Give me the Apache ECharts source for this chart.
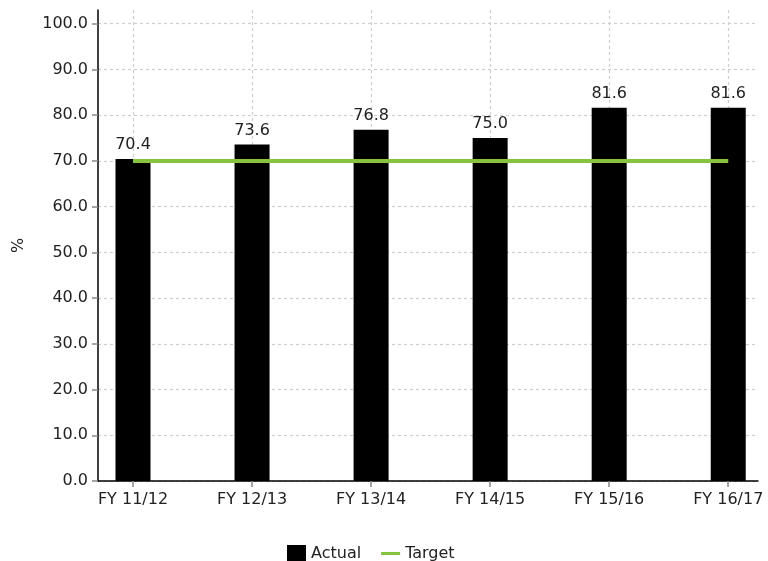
<!DOCTYPE html>
<html>
<head>
<meta charset="utf-8">
<script src="https://cdn.jsdelivr.net/npm/echarts@6/dist/echarts.min.js"></script>
<style>
  html, body { margin: 0; padding: 0; background: #fff; }
  #chart { width: 768px; height: 561px; }
</style>
</head>
<body>
<div id="chart"></div>
<script>
// chart data
const categories = ['FY 11/12', 'FY 12/13', 'FY 13/14', 'FY 14/15', 'FY 15/16', 'FY 16/17'];
const actual = [70.4, 73.6, 76.8, 75.0, 81.6, 81.6];
const target = [70, 70, 70, 70, 70, 70];
const yTicks = [0, 10, 20, 30, 40, 50, 60, 70, 80, 90, 100];
const xTicks = [0, 1, 2, 3, 4, 5];

const font = 'DejaVu Sans';
const textColor = '#222';
const green = '#86c440';
const gridLine = { show: true, lineStyle: { color: '#cfcfcf', type: [3, 3], width: 1.2 } };

const chart = echarts.init(document.getElementById('chart'));

chart.setOption({
    animation: false,
    backgroundColor: '#fff',
    textStyle: { fontFamily: font },
    grid: { left: 98, right: 10, top: 10, bottom: 80, containLabel: false },
    legend: {
        left: 282,
        top: 540,
        itemWidth: 19,
        itemHeight: 17,
        itemGap: 20,
        textStyle: { fontFamily: font, fontSize: 16, color: textColor },
        data: [
            { name: 'Actual', icon: 'rect' },
            // thin bar as the line marker
            { name: 'Target', icon: 'path://M0,0 H21 V3.4 H0 Z', itemStyle: { color: green } }
        ]
    },
    xAxis: {
        type: 'value',
        min: -0.294,
        max: 5.25,
        axisLine: { show: true, lineStyle: { color: '#000', width: 1.5 } },
        axisTick: { show: true, customValues: xTicks, length: 6, lineStyle: { color: '#888', width: 1.5 } },
        axisLabel: {
            customValues: xTicks,
            margin: 11,
            fontSize: 16,
            color: textColor,
            formatter: v => categories[Math.round(v)] || ''
        },
        splitLine: gridLine
    },
    yAxis: {
        type: 'value',
        min: 0,
        max: 103,
        name: '%',
        nameLocation: 'middle',
        nameGap: 71,
        nameTextStyle: { fontFamily: font, fontSize: 16, color: textColor },
        axisLine: { show: true, onZero: false, lineStyle: { color: '#000', width: 1.5 } },
        axisTick: { show: true, customValues: yTicks, length: 6, lineStyle: { color: '#888', width: 1.5 } },
        axisLabel: {
            customValues: yTicks,
            margin: 10,
            fontSize: 16,
            color: textColor,
            formatter: v => v.toFixed(1)
        },
        splitLine: gridLine
    },
    series: [
        {
            name: 'Actual',
            type: 'bar',
            barWidth: 35,
            itemStyle: { color: '#000' },
            label: {
                show: true,
                position: 'top',
                distance: 6,
                fontSize: 16,
                color: textColor,
                formatter: p => p.value[1].toFixed(1)
            },
            data: actual.map((v, i) => [i, v])
        },
        {
            name: 'Target',
            type: 'line',
            symbol: 'none',
            lineStyle: { color: green, width: 4 },
            itemStyle: { color: green },
            data: target.map((v, i) => [i, v])
        }
    ]
});
</script>
</body>
</html>
